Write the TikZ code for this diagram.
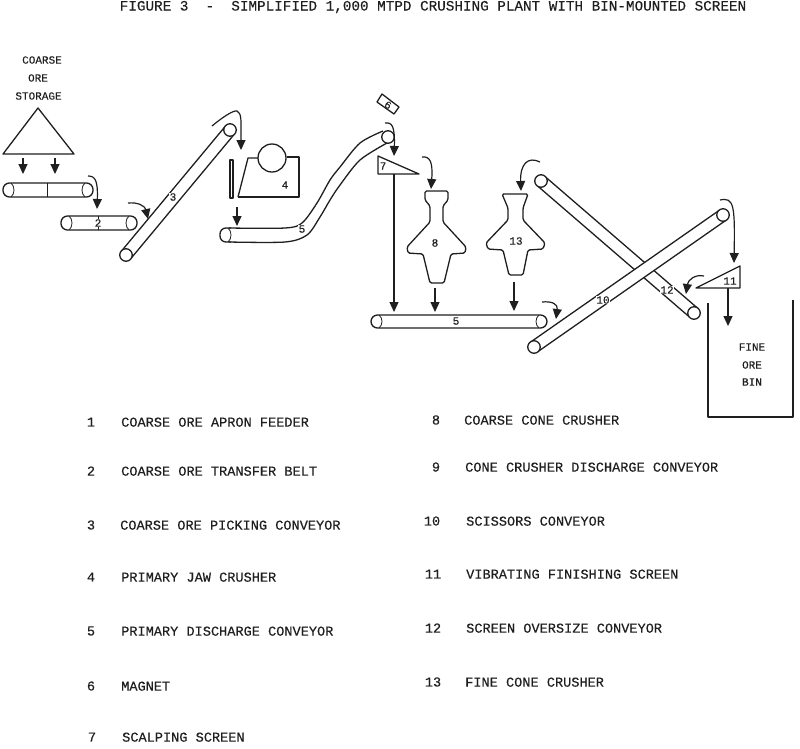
\documentclass[tikz,border=0pt]{standalone}
\usepackage{fontspec}
\setmainfont{Liberation Mono}[FakeBold=0.3]
\usetikzlibrary{arrows.meta,calc,positioning}
\colorlet{penColor}{black!88}
\tikzset{>={Stealth[inset=0pt,length=10pt,width=9pt]},
  plant/.style={draw=penColor,line width=1.3pt,line join=round},
  flow/.style={penColor,line width=1.2pt,->},
  pulley/.style={circle,draw=penColor,line width=1.3pt,fill=white,inner sep=0pt,minimum size=12.5pt},
  tag/.style={font=\fontsize{11}{12}\selectfont,text=penColor,inner sep=0pt},
  capText/.style={font=\fontsize{11}{13}\selectfont,text=penColor,inner sep=0pt},
  legend/.style={font=\fontsize{13.6}{16}\selectfont,text=penColor,inner sep=0pt,anchor=mid west,yshift=-2pt},
  number/.style={font=\fontsize{13.6}{16}\selectfont,text=penColor,inner sep=0pt}}

% inclined conveyor: name, low pulley, high pulley
\newcommand{\slopeBelt}[3]{
  \coordinate (#1a) at (#2);
  \coordinate (#1b) at (#3);
  \fill[white] ($(#1a)!6pt!90:(#1b)$) -- ($(#1b)!6pt!-90:(#1a)$) -- ($(#1b)!6pt!90:(#1a)$) -- ($(#1a)!6pt!-90:(#1b)$) -- cycle;
  \draw[plant] ($(#1a)!6pt!90:(#1b)$) -- ($(#1b)!6pt!-90:(#1a)$);
  \draw[plant] ($(#1a)!6pt!-90:(#1b)$) -- ($(#1b)!6pt!90:(#1a)$);
  \node[pulley] (#1low) at (#1a) {};
  \node[pulley] (#1high) at (#1b) {};
}
% level belt: left, right, top, bottom
\newcommand{\levelBelt}[4]{
  \draw[plant,rounded corners=6.5pt] (#1,#3) rectangle (#2,#4);
  \draw[plant,line width=.8pt] (#1+8,#3) .. controls (#1+12,#3+3) and (#1+12,#4-3) .. (#1+8,#4);
  \draw[plant,line width=.8pt] (#2-8,#3) .. controls (#2-12,#3+3) and (#2-12,#4-3) .. (#2-8,#4);
}

\begin{document}
\begin{tikzpicture}[x=1pt,y=-1pt]
    \useasboundingbox (0,0) rectangle (800,748);

    \node[font=\fontsize{14.3}{16}\selectfont,text=penColor,inner sep=0pt] (title) at (433,7)
      {FIGURE 3~~-~~SIMPLIFIED 1,000 MTPD CRUSHING PLANT WITH BIN-MOUNTED SCREEN};

    % storage
    \node[capText] (coarse) at (42,60) {COARSE};
    \node[capText] (ore) at (38,78) {ORE};
    \node[capText] (storage) at (38.5,96) {STORAGE};
    \draw[plant] (38,108) -- (74,154) -- (3,154) -- cycle;
    \draw[flow] (23,158) -- (23,174);
    \draw[flow] (55,158) -- (55,174);

    % belts 1 and 2
    \levelBelt{3}{93}{183}{197}
    \draw[plant,line width=.8pt] (47,183) -- (47,197);
    \draw[flow] (88,176) .. controls (95,176) and (98,180) .. (97,209);
    \levelBelt{61}{137}{216}{230}
    \draw[plant,line width=.8pt] (98,216) -- (98,230);
    \node[tag,fill=white,inner sep=.5pt] (two) at (98,223) {2};
    \draw[flow] (128,203) .. controls (138,202) and (145,206) .. (148,219);

    % picking conveyor
    \slopeBelt{three}{126,255}{230,130}
    \node[tag,fill=white,inner sep=.5pt] (lblThree) at (173,197) {3};
    \draw[flow] (212,126) .. controls (224,116) and (234,110) .. (237,111) .. controls (242,113) and (241,122) .. (241,150);

    % jaw crusher
    \draw[plant] (230,160) rectangle (233,198);
    \draw[plant] (238,197) -- (248,158) -- (258,158);
    \draw[plant] (287,157) -- (299,157) -- (299,197) -- (238,197);
    \node[circle,draw=penColor,line width=1.3pt,minimum size=28pt,inner sep=0pt] (jaw) at (272,158) {};
    \node[tag] (four) at (285,185) {4};
    \draw[flow] (237,207) -- (237,226);

    % primary discharge
    \draw[plant,rounded corners=6pt] (231,242) -- (220,242) -- (220,228) -- (231,228);
    \draw[plant,line width=.8pt] (228,228) .. controls (232,231) and (232,239) .. (228,242);
    \draw[plant] plot[smooth] coordinates {(229,228) (285,228) (302,223) (317,203) (330,180) (340,167) (360,143) (383,131)};
    \draw[plant] plot[smooth] coordinates {(229,242) (285,242) (307,235) (320,217) (330,200) (340,185) (360,160) (387,143)};
    \node[pulley] (fiveHigh) at (388,137) {};
    \node[tag,fill=white,inner sep=.5pt] (five) at (302,229) {5};

    % magnet and scalping screen
    \draw[plant] (377,102) -- (382,94) -- (399,107) -- (394,114) -- cycle;
    \node[tag,rotate=-30] (six) at (388,105) {6};
    \draw[flow] (385,123) .. controls (392,122) and (395,126) .. (394,156);
    \draw[plant] (378,156) -- (419,174) -- (378,174) -- cycle;
    \node[tag] (seven) at (383,166) {7};
    \draw[flow] (394,174) -- (394,312);

    % coarse cone crusher
    \draw[flow] (422,157) .. controls (430,156) and (433,162) .. (431,189);
    \draw[plant,rounded corners=1.5pt] (425,191) -- (448,191) -- (448,200) -- (443,206) -- (443,222) -- (466,247) -- (465,253) -- (451,254) -- (444,283) -- (430,283) -- (423,254) -- (408,253) -- (407,247) -- (430,222) -- (430,206) -- (425,200) -- cycle;
    \node[tag] (eight) at (435,243) {8};
    \draw[flow] (435,288) -- (435,312);

    % fine cone crusher
    \draw[flow] (540,162) .. controls (528,156) and (520,164) .. (521,191);
    \draw[plant,rounded corners=1.5pt] (502,194) -- (528,194) -- (523,208) -- (523,220) -- (545,243) -- (543,249) -- (528,250) -- (523,275) -- (509,275) -- (503,250) -- (488,249) -- (486,243) -- (508,220) -- (508,208) -- cycle;
    \node[tag] (thirteen) at (516,241) {13};
    \draw[flow] (514,282) -- (514,311);

    % cone crusher discharge
    \levelBelt{371}{547}{315}{328}
    \node[tag] (nine) at (456,321) {5};
    \draw[flow] (542,302) .. controls (552,301) and (558,304) .. (556,319);

    % scissors conveyors
    \slopeBelt{twelve}{694,313}{541,181}
    \slopeBelt{ten}{534,347}{723,215}
    \node[tag,fill=white,inner sep=.5pt] (lblTen) at (603,300) {10};
    \node[tag,fill=white,inner sep=.5pt] (lblTwelve) at (667,290) {12};
    \draw[flow] (720,200) .. controls (734,197) and (735,205) .. (734,263);

    % finishing screen and bin
    \draw[plant] (740,266) -- (740,288) -- (696,288) -- cycle;
    \node[tag] (eleven) at (730,281) {11};
    \draw[flow] (704,276) .. controls (695,274) and (688,280) .. (686,294);
    \draw[flow] (728,288) -- (728,326);
    \draw[plant] (708,303) -- (708,417) -- (793,417) -- (793,300);
    \node[capText] (fine) at (752,347) {FINE};
    \node[capText] (fineOre) at (752,365) {ORE};
    \node[capText] (bin) at (752,382) {BIN};

    % key, left column
    \node[number] (n1) at (91,422) {1};
    \node[legend] (t1) at (121,422) {COARSE ORE APRON FEEDER};
    \node[number] (n2) at (91,471) {2};
    \node[legend] (t2) at (121,471) {COARSE ORE TRANSFER BELT};
    \node[number] (n3) at (91,525) {3};
    \node[legend] (t3) at (120,525) {COARSE ORE PICKING CONVEYOR};
    \node[number] (n4) at (91,577) {4};
    \node[legend] (t4) at (121,577) {PRIMARY JAW CRUSHER};
    \node[number] (n5) at (91,631) {5};
    \node[legend] (t5) at (121,631) {PRIMARY DISCHARGE CONVEYOR};
    \node[number] (n6) at (91,686) {6};
    \node[legend] (t6) at (121,686) {MAGNET};
    \node[number] (n7) at (92,737) {7};
    \node[legend] (t7) at (122,737) {SCALPING SCREEN};

    % key, right column
    \node[number] (n8) at (436,420) {8};
    \node[legend] (t8) at (464,420) {COARSE CONE CRUSHER};
    \node[number] (n9) at (436,467) {9};
    \node[legend] (t9) at (465,467) {CONE CRUSHER DISCHARGE CONVEYOR};
    \node[number] (n10) at (432,521) {10};
    \node[legend] (t10) at (466,521) {SCISSORS CONVEYOR};
    \node[number] (n11) at (433,574) {11};
    \node[legend] (t11) at (466,574) {VIBRATING FINISHING SCREEN};
    \node[number] (n12) at (433,628) {12};
    \node[legend] (t12) at (466,628) {SCREEN OVERSIZE CONVEYOR};
    \node[number] (n13) at (433,682) {13};
    \node[legend] (t13) at (465,682) {FINE CONE CRUSHER};
\end{tikzpicture}
\end{document}
